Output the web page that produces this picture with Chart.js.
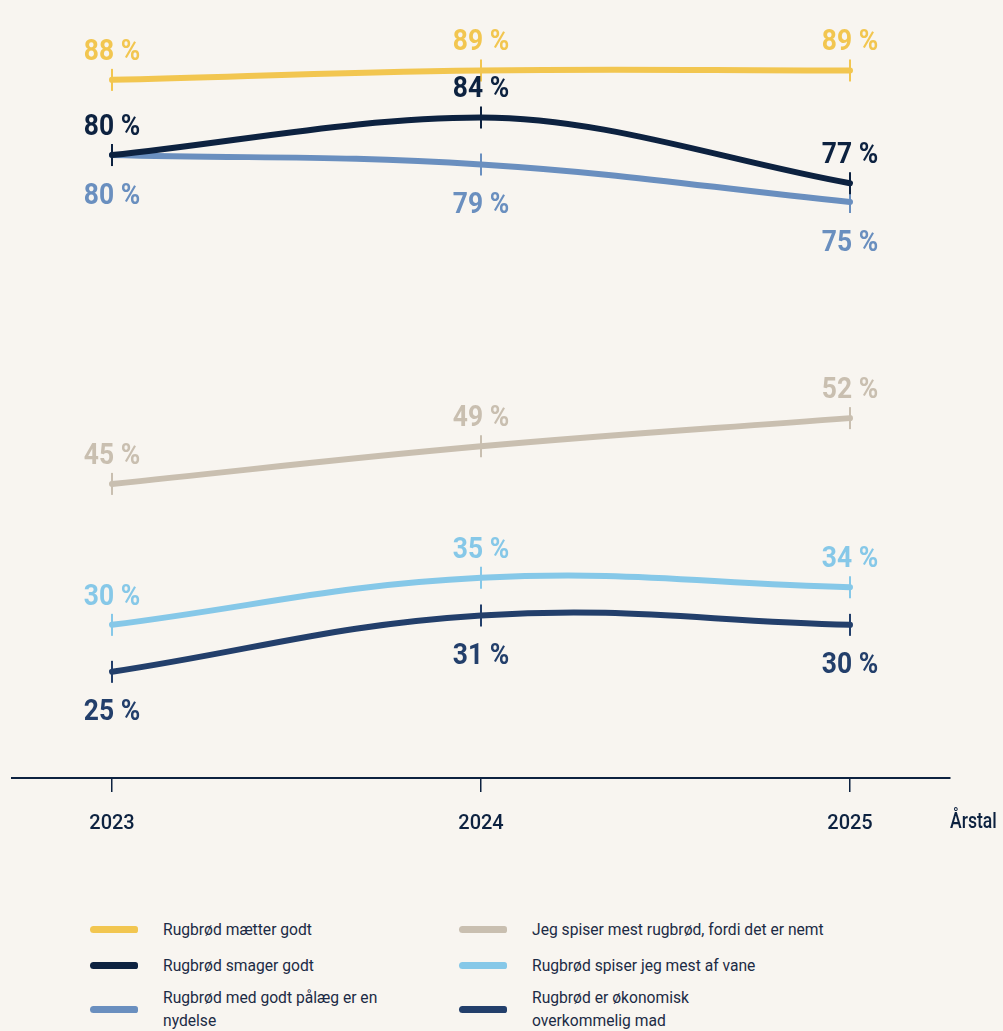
<!DOCTYPE html>
<html>
<head>
<meta charset="utf-8">
<title>Rugbrød</title>
<script src="https://cdn.jsdelivr.net/npm/chart.js@4.4.1/dist/chart.umd.min.js"></script>
<style>
  body { margin: 0; background: #f8f5f0; font-family: Roboto, sans-serif; }
  #wrap { position: relative; width: 1003px; height: 860px; }
  #legend { position: relative; width: 1003px; height: 171px; color: #1c2b45; font-size: 17px; }
  .item { position: absolute; display: flex; align-items: center; }
  .swatch { width: 48px; height: 7px; border-radius: 4px 3px 3px 4px; margin-right: 25px; flex: none; }
  .txt { line-height: 23px; transform: scaleX(0.92); transform-origin: left center; white-space: nowrap; }
</style>
</head>
<body>
<div id="wrap"><canvas id="myChart"></canvas></div>
<div id="legend"></div>
<script>
// data
var years = ['2023', '2024', '2025'];
var seriesNames = ['Rugbrød mætter godt', 'Rugbrød smager godt', ['Rugbrød med godt pålæg er en', 'nydelse'],
                   'Jeg spiser mest rugbrød, fordi det er nemt', 'Rugbrød spiser jeg mest af vane', ['Rugbrød er økonomisk', 'overkommelig mad']];
var maetter = [88, 89, 89];
var smager = [80, 84, 77];
var paalaeg = [80, 79, 75];
var nemt = [45, 49, 52];
var vane = [30, 35, 34];
var oekonomisk = [25, 31, 30];

var colors = ['#f2c650', '#0d2240', '#6a8fbf', '#c9bfb0', '#86c8e8', '#233f6b'];
var labelSide = ['above', 'above', 'below', 'above', 'above', 'below'];
var allSeries = [maetter, smager, paalaeg, nemt, vane, oekonomisk];

var datasets = [];
for (var i = 0; i < allSeries.length; i++) {
  datasets.push({
    label: Array.isArray(seriesNames[i]) ? seriesNames[i].join(' ') : seriesNames[i],
    data: allSeries[i].map(function (v, k) { return { x: k, y: v }; }),
    borderColor: colors[i],
    backgroundColor: colors[i],
    borderWidth: 6,
    borderCapStyle: 'round',
    tension: 0.4,
    cubicInterpolationMode: (i == 1 ? 'monotone' : 'default'),
    pointStyle: 'line',
    rotation: 90,
    pointRadius: 11,
    pointBorderWidth: 2,
    pointBorderColor: colors[i],
    pointHoverRadius: 11
  });
}

// draws condensed text (squeeze horizontally)
function narrowText(ctx, text, x, y, sx) {
  ctx.save();
  ctx.translate(x, y);
  ctx.scale(sx, 1);
  ctx.fillText(text, 0, 0);
  ctx.restore();
}

// percent labels next to every point
var valueLabels = {
  id: 'valueLabels',
  afterDatasetsDraw: function (chart) {
    var ctx = chart.ctx;
    ctx.save();
    ctx.font = 'bold 30px Roboto, sans-serif';
    ctx.textAlign = 'center';
    chart.data.datasets.forEach(function (ds, di) {
      var meta = chart.getDatasetMeta(di);
      ctx.fillStyle = colors[di];
      meta.data.forEach(function (pt, k) {
        var v = allSeries[di][k];
        if (labelSide[di] == 'above') {
          ctx.textBaseline = 'alphabetic';
          narrowText(ctx, v + ' %', pt.x, pt.y - 20, 0.88);
        } else {
          ctx.textBaseline = 'top';
          narrowText(ctx, v + ' %', pt.x, pt.y + 26, 0.88);
        }
      });
    });
    // axis title on the right
    ctx.font = '500 22px Roboto, sans-serif';
    ctx.fillStyle = '#0d2240';
    ctx.textAlign = 'left';
    ctx.textBaseline = 'middle';
    narrowText(ctx, 'Årstal', 950, 822, 0.8);
    ctx.restore();
  }
};

let myChart = document.getElementById('myChart').getContext('2d');
let demoChart = new Chart(myChart, {
  type: 'line',
  data: { datasets: datasets },
  options: {
    responsive: true,
    maintainAspectRatio: false,
    animation: false,
    layout: { autoPadding: false, padding: { left: 12, right: 53, top: 0, bottom: 0 } },
    plugins: { legend: { display: false }, tooltip: { enabled: false } },
    scales: {
      x: {
        type: 'linear',
        min: -0.271,
        max: 2.271,
        afterBuildTicks: function (scale) {
          scale.ticks = years.map(function (y, k) { return { value: k }; });
        },
        afterFit: function (scale) { scale.height = 82; },
        ticks: {
          callback: function (value) { return years[value]; },
          color: '#0d2240',
          padding: 20,
          maxRotation: 0,
          font: { family: 'Roboto, sans-serif', size: 20, weight: '500' }
        },
        grid: { drawOnChartArea: false, drawTicks: true, tickLength: 14, color: '#0d2240', lineWidth: 1.5 },
        border: { display: true, color: '#0d2240', width: 2 }
      },
      y: {
        display: false,
        min: 13.7,
        max: 96.5
      }
    }
  },
  plugins: [valueLabels]
});

// legend in two columns
var legend = document.getElementById('legend');
var colX = [90, 459];
var rowY = [69, 105, 149];
for (var j = 0; j < seriesNames.length; j++) {
  var item = document.createElement('div');
  item.className = 'item';
  item.style.left = colX[Math.floor(j / 3)] + 'px';
  item.style.top = (rowY[j % 3] - 23) + 'px';
  item.style.height = '46px';
  var sw = document.createElement('div');
  sw.className = 'swatch';
  sw.style.background = colors[j];
  var tx = document.createElement('div');
  tx.className = 'txt';
  tx.innerHTML = [].concat(seriesNames[j]).join('<br>');
  item.appendChild(sw);
  item.appendChild(tx);
  legend.appendChild(item);
}
</script>
</body>
</html>
